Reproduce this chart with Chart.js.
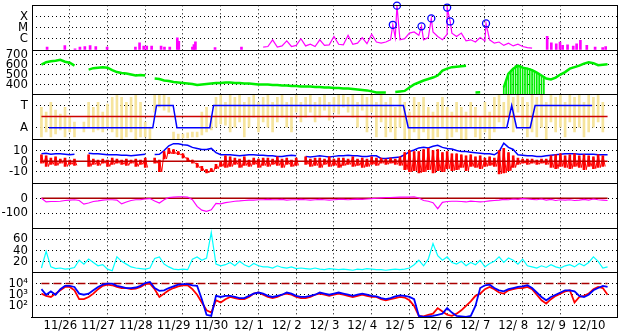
<!DOCTYPE html>
<html>
<head>
<meta charset="utf-8">
<style>
  html, body { margin: 0; padding: 0; background: #fff; }
  #wrap { width: 628px; height: 334px; }
</style>
</head>
<body>
<div id="wrap"><canvas id="chart" width="628" height="334"></canvas></div>
<script src="https://cdn.jsdelivr.net/npm/chart.js@4.4.1/dist/chart.umd.min.js"></script>
<script>
(function () {
  "use strict";

  // time axis: days since 11/26 00:00, samples every 3 hours
  var STEP = 1 / 8;
  var dateLabels = ["11/26", "11/27", "11/28", "11/29", "11/30", "12/ 1", "12/ 2", "12/ 3",
    "12/ 4", "12/ 5", "12/ 6", "12/ 7", "12/ 8", "12/ 9", "12/10"];

  // panel 1: x-ray level (0 = B, 1 = C, 2 = M, 3 = X)
  var xrayTicks = [1, 2, 3];
  var xrayTickText = ["C", "M", "X"];
  var xrayLevel = [
    null, null, null, null, null, null, null, null,
    null, null, null, null, null, null, null, null,
    null, null, null, null, null, null, null, null,
    null, null, null, null, null, null, null, null,
    null, null, null, null, null, null, null, null,
    null, null, null, null, null, null, null, 0.25,
    0.3, 0.9, 0.25, 0.35, 0.8, 0.3, 0.4, 1.0,
    0.35, 0.5, 0.3, 0.9, 0.4, 0.45, 1.2, 0.5,
    0.45, 1.3, 0.5, 0.6, 1.1, 0.55, 1.4, 0.7,
    0.6, 0.7, 0.9, 1.1, 0.9, 1.0, 1.5, 1.6,
    1.3, 0.9, 1.1, 1.6, 1.2, 0.9, 1.4, 1.5,
    1.2, 1.5, 0.8, 0.9, 0.7, 1.1, 0.8, 0.9,
    0.6, 0.7, 0.4, 0.6, 0.35, 0.5, 0.3, 0.2,
    0.15, null, null, null, null, null, null, null,
    null, null, null, null, null, null, null, null, null
  ];
  var flareDay = [9.31, 9.42, 10.07, 10.33, 10.75, 10.83, 11.78];
  var flareLevel = [2.25, 3.97, 2.11, 2.82, 3.80, 2.55, 2.37];
  var spikeDay = [0.15, 0.62, 0.89, 1.02, 1.15, 1.29, 1.44, 1.74, 2.49, 2.60, 2.71, 2.79, 2.92,
    3.17, 3.26, 3.40, 3.60, 3.64, 4.00, 4.04, 4.08, 4.6, 5.3,
    13.40, 13.51, 13.64, 13.74, 13.81, 13.94, 14.09, 14.18, 14.28, 14.45, 14.67, 14.87, 14.95];
  var spikeLevel = [0.24, 0.38, 0.09, 0.24, 0.29, 0.38, 0.29, 0.24, 0.24, 0.62, 0.33, 0.33, 0.33,
    0.33, 0.24, 0.24, 1.07, 0.77, 0.24, 0.47, 0.71, 0.2, 0.25,
    1.22, 0.62, 0.53, 0.7, 0.4, 0.45, 0.33, 0.53, 0.86, 0.4, 0.24, 0.2, 0.3];

  // panel 2: solar wind speed (km/s)
  var speedTicks = [400, 500, 600, 700];
  var speed = [
    600, 625, 635, 640, 650, 630, 620, 590,
    null, null, 550, 565, 570, 575, 570, 545,
    525, 515, 510, 500, 490, 495, 490, null,
    460, 455, 440, 435, 425, 420, 415, 410,
    405, 395, 400, 405, 410, 415, 415, 420,
    420, 415, 415, 410, 410, 405, 400, 400,
    400, 395, 395, 390, 390, 385, 385, 380,
    380, 380, 375, 375, 370, 370, 365, 365,
    360, 360, 355, 350, 345, 340, 330, 320,
    320, 318, null, 325, 330, 335, 370, 400,
    420, 440, 455, 470, 490, 540, 560, 575,
    580, 585, 590, null, 320, 322, null, null,
    null, null, 370, 510, 560, 590, 570, 560,
    545, 520, 490, 460, 450, 470, 500, 525,
    560, 575, 590, 610, 625, 615, 595, 600, 605
  ];
  // data dropouts on 12/8, every 1.5 hours from day 12.25
  var dropStart = 12.25;
  var dropStep = 1 / 16;
  var dropTop = [370, 445, 510, 540, 560, 590, 590, 590, 575, 570, 565, 560, 550, 535, 520, 505, 490, 470];

  // panel 3: mode (A / T) and scatter band
  var modeTicks = [-0.5, 0.5];
  var modeTickText = ["A", "T"];
  var modeDay = [0.2, 2.95, 3.05, 3.49, 3.59, 4.46, 4.56, 9.59, 9.72, 12.33, 12.46, 12.59, 12.95, 13.08, 14.59];
  var modeState = ["A", "A", "T", "T", "A", "A", "T", "T", "A", "A", "T", "A", "A", "T", "T"];
  var scatterHi = [
    0.42, 0.2, 0.64, 0.29, 0.11, 0.42, -0.02, -0.24,
    null, -0.24, 0.64, 0.42, 0.64, 0.2, 0.56, 0.87,
    0.96, 0.87, 0.64, 0.87, 0.96, 0.64, -0.24, -0.47,
    1, 1, 1, 0.87, -0.69, -0.78, -0.78, -0.73,
    -0.69, -0.69, 0.2, 0.42, -0.02, 0.87, 0.96, 0.64,
    1, 0.87, 1, 0.64, 0.87, 1, 0.64, 0.87,
    1, 0.64, 0.87, 1, 0.64, 0.87, 1, 0.64,
    0.87, 1, 0.64, 0.87, 1, 0.64, 0.87, 1,
    1, 0.87, 1, 0.64, 1, 0.87, 1, 0.64,
    1, 0.64, 0.87, 0.42, 1, 0.64, 0.2, 0.87,
    0.64, 0.87, 0.42, 0.2, 0.64, 0.87, 0.42, 0.2,
    0.64, 0.42, 0.2, 0.64, 0.42, -0.02, 0.64, 0.2,
    0.87, 1, 0.64, 1, 0.87, 1, 0.87, 0.64,
    1, 0.87, 1, 0.64, 1, 0.87, 1, 0.64,
    1, 0.87, 1, 0.64, 1, 0.87, 1, 0.64, null
  ];
  var scatterLo = [
    -0.91, -0.69, -0.91, -0.78, -0.6, -0.91, -0.69, -0.91,
    null, -0.69, -0.47, -0.69, -0.6, -0.69, -0.47, -0.69,
    -0.91, -1, -0.91, -0.69, -1, -0.91, -0.91, -1,
    0.2, 0.42, 0.29, 0.2, -1, -1, -0.96, -0.96,
    -0.91, -0.91, -0.82, -0.69, -0.6, -0.47, -0.33, -0.38,
    -0.69, -0.47, -0.24, -0.91, -0.47, -0.02, -0.69, -0.24,
    -0.47, -0.69, -0.24, -0.02, -0.47, -0.69, 0.2, -0.24,
    -0.02, 0.2, -0.24, -0.02, 0.29, -0.16, 0.2, 0.11,
    0.42, 0.2, -0.02, -0.47, 0.29, -0.69, 0.2, -0.91,
    -0.24, -0.91, -0.69, -1, -0.47, -1, -1, -0.69,
    -1, -0.69, -1, -1, -0.91, -0.47, -1, -0.91,
    -0.69, -1, -1, -0.47, -0.91, -1, -0.69, -1,
    -0.69, -0.24, -0.47, -0.02, -0.69, 0.2, -0.47, -0.91,
    -0.69, -0.91, -0.47, -1, -0.24, -0.69, -0.47, -0.91,
    -0.24, -0.69, -0.47, -0.91, -0.69, -0.47, -0.24, -0.69, null
  ];

  // panel 4: field magnitude and Bz (nT)
  var bzTicks = [-10, 0, 10];
  var bt = [
    7, 7.5, 6.5, 7, 7, 6.5, 6, 6.5,
    null, null, 7.5, 7, 7, 6.5, 6, 6,
    6, 5.5, 5.5, 5, 5.5, 6, 6.5, null,
    6.3, 6.5, 10, 14.5, 16.5, 16.5, 15.5, 15,
    13, 12, 11, 11, 12, 8, 6, 6,
    6, 5.5, 5, 5.5, 6, 6, 5.5, 5.5,
    5, 5, 4.5, 4.5, 5, 5.5, 5, null,
    4.5, 4, 4.5, 5, 4.5, 4, 4.5, 5,
    5, 5.5, 5, 5, 4.5, 4.5, 5, 5,
    2.5, 2.5, 3, 3.5, 4, 6, 9, 10.5,
    12.5, 13, 12.5, 14, 15, 13, 12, 11.5,
    10, 9, 9, 8.5, 8, 7.5, 7, 7,
    6, 9, 17, 13, 11, 6, 5.5, 5,
    5, 4.5, 4.5, 5, 5.5, 6, 6.5, 7,
    7, 7, 6.5, 6.5, 6.5, 6.5, 6, 6, 6
  ];
  var bzLo = [
    -2, -5, -3, -4, -2, -5, -3, -4,
    null, null, -5, -3, -4, -2, -5, -3,
    -2, -3, -4, -2, -5, -3, -6, null,
    -2, -10, 2, 7, 7, 6, 3, 0,
    -2, -6, -9, -11, -10, -7, -5, -6,
    -5, -3, -6, -4, -5, -3, -6, -4,
    -5, -3, -4, -6, -3, -5, -4, null,
    -3, -5, -4, -6, -3, -5, -4, -6,
    -4, -3, -5, -4, -6, -5, -3, -4,
    -2, -3, -2, -3, -4, -8, -10, -9,
    -11, -10, -8, -11, -9, -10, -7, -9,
    -8, -6, -9, -5, -6, -7, -5, -4,
    -5, -12, -11, -9, -6, -3, -2, -3,
    -2, -3, -2, -3, -6, -7, -5, -6,
    -7, -5, -6, -8, -5, -7, -6, -5, null
  ];
  var bzHi = [
    6, 5, 3, 4, 2, 3, 1, 2,
    null, null, 6, 2, 1, 2, 1, 3,
    2, 1, 2, 1, 2, 1, 3, null,
    3, 1, 9, 12, 11, 9, 7, 3,
    1, -2, -5, -8, -7, -3, 0, 5,
    4, 3, 2, 4, 1, 3, 2, 3,
    3, 2, 4, 2, 3, 1, 3, null,
    4, 2, 3, 3, 2, 4, 2, 3,
    3, 2, 4, 2, 3, 2, 4, 3,
    3, 2, 3, 2, 4, 8, 10, 9,
    9, 11, 12, 10, 11, 8, 9, 7,
    7, 6, 5, 6, 4, 5, 3, 4,
    3, 10, 12, 8, 5, 3, 2, 2,
    2, 1, 2, 2, 5, 6, 7, 5,
    6, 7, 5, 6, 5, 4, 6, 5, null
  ];

  // panel 5: storm index (nT)
  var dstTicks = [-100, 0];
  var dst = [
    0, -25, -22, -22, -20, -15, -12, -10,
    -15, -40, -32, -22, -18, -12, -10, -10,
    -12, -38, -25, -15, -10, -9, -5, -2,
    -18, -32, -10, 5, 8, 10, 10, 8,
    -10, -55, -80, -88, -78, -35, -38, -30,
    -25, -20, -18, -15, -12, -12, -10, -10,
    -8, -10, -10, -8, -12, -10, -10, -8,
    -10, -12, -10, -8, -10, -12, -10, -8,
    -8, -10, -8, -6, -8, -5, -3, 0,
    3, 5, 5, 6, 7, 8, 8, 10,
    2, -15, -20, -30, -70, -28, -22, -20,
    -20, -22, -25, -20, -22, -25, -22, -18,
    -15, -12, -8, -10, -5, -8, -3, -5,
    -8, -10, -5, -12, -8, -15, -10, -12,
    -10, -15, -12, -8, -12, -5, -10, -12, -15
  ];

  // panel 6: density (p/cc)
  var densTicks = [20, 40, 60];
  var density = [
    8, 38, 10, 7, 8, 6, 7, 9,
    22, 15, 24, 18, 12, 14, 6, 3,
    28, 20, 15, 10, 8, 7, 6, 8,
    25, 28, 15, 10, 6, 5, 6, 5,
    24, 28, 22, 26, 72, 15, 12, 14,
    18, 12, 20, 14, 10, 16, 12, 10,
    10, 8, 12, 9, 8, 10, 7, 8,
    7, 6, 8, 6, 5, 7, 6, 5,
    6, 5, 4, 6, 5, 7, 6, 5,
    5, 4, 5, 6, 5, 6, 8, 14,
    22, 12, 24, 52, 30, 22, 28, 18,
    15, 20, 12, 18, 14, 22, 10, 16,
    20, 28, 18, 26, 22, 15, 24, 12,
    10, 8, 12, 9, 14, 10, 8, 12,
    14, 10, 16, 12, 18, 28, 20, 8, 10
  ];

  // panel 7: electron flux, log10
  var fluxTicks = [2, 3, 4];
  var fluxTickText = ["10\u00b2", "10\u00b3", "10\u2074"];
  var fluxAlert = 4;
  var fluxRed = [
    3.1, 2.9, 2.8, 3.1, 3.4, 3.7, 3.7, 3.4,
    2.6, 2.6, 2.8, 3.1, 3.5, 3.8, 3.9, 3.85,
    3.7, 3.6, 3.6, 3.5, 3.55, 3.7, 3.95, 4.0,
    3.5, 2.8, 3.1, 3.4, 3.6, 3.75, 3.85, 3.85,
    3.5, 3.0, 2.3, 1.6, 1.4, 2.5, 2.3, 2.6,
    2.8, 2.7, 2.6, 2.6, 2.8, 3.1, 3.2, 3.0,
    2.8, 2.7, 2.8, 3.0, 3.1, 3.0, 2.8, 2.7,
    2.7, 2.8, 3.0, 3.1, 3.0, 2.9, 3.0, 3.1,
    3.0, 2.9, 2.8, 2.9, 3.0, 2.9, 2.8, 2.8,
    2.6, 2.5, 2.6, 2.7, 2.8, 2.75, 2.5, 2.0,
    1.1, 1.05, 1.2, 1.3, 1.8, 1.5, 1.2, 1.1,
    1.3, 1.6, 2.0, 2.4, 2.9, 3.1, 3.5, 3.7,
    3.5, 3.2, 3.1, 3.4, 3.5, 3.6, 3.6, 3.7,
    3.5, 3.0, 2.5, 2.2, 2.6, 2.9, 3.1, 3.3,
    3.4, 2.3, 2.8, 2.9, 3.1, 3.5, 3.7, 3.6, 3.0
  ];
  var fluxBlue = [
    3.5, 3.0, 3.3, 3.0, 3.5, 3.8, 3.8, 3.7,
    3.1, 3.0, 3.1, 3.4, 3.7, 3.9, 4.0, 4.0,
    3.8, 3.7, 3.6, 3.6, 3.65, 3.8, 4.05, 4.15,
    3.6, 3.35, 3.4, 3.6, 3.75, 3.9, 3.95, 3.95,
    3.85, 3.8, 2.6, 1.2, 1.1, 2.9, 2.8, 2.9,
    2.9, 2.8, 2.7, 2.7, 2.9, 3.1, 3.2, 3.1,
    2.9, 2.8, 2.9, 3.0, 3.2, 3.1, 2.9, 2.8,
    2.8, 2.9, 3.0, 3.2, 3.1, 3.0, 3.1, 3.2,
    3.1, 3.0, 2.9, 3.0, 3.1, 3.0, 2.9, 2.85,
    2.7, 2.6, 2.7, 2.85, 2.95, 2.9, 2.8, 2.6,
    1.1, 1.0, 1.05, 1.1, 1.2, 1.3, 1.8, 1.4,
    1.1, 1.05, 1.0, 1.1, 2.0, 3.6, 3.85, 3.9,
    3.6, 3.4, 3.3, 3.5, 3.6, 3.7, 3.75, 3.85,
    3.6, 3.2, 2.8, 2.5, 2.8, 3.0, 3.2, 3.4,
    3.4, 3.3, 2.9, 2.8, 3.0, 3.4, 3.6, 3.8, 3.7
  ];

  var DAYS = dateLabels.length;
  var FONT = "'Liberation Sans Narrow', 'DejaVu Sans Condensed', 'Liberation Sans', sans-serif";

  function series(values) {
    return values.map(function (v, i) { return { x: i * STEP, y: v }; });
  }

  function bands(lo, hi) {
    var out = [];
    lo.forEach(function (v, i) {
      if (v !== null && hi[i] !== null) out.push({ x: i * STEP, y: [v, hi[i]] });
    });
    return out;
  }

  // noisy trace: swing from the high reading to the low one inside each sample
  function swing(lo, hi) {
    var out = [];
    lo.forEach(function (v, i) {
      if (v === null || hi[i] === null) {
        out.push({ x: i * STEP, y: null });
        return;
      }
      out.push({ x: i * STEP, y: hi[i] });
      out.push({ x: i * STEP + STEP / 2, y: v });
    });
    return out;
  }

  function levelLine(level) {
    return [{ x: 0, y: level }, { x: DAYS, y: level }];
  }

  var xrayData = series(xrayLevel);
  flareDay.forEach(function (d, i) { xrayData.push({ x: d, y: flareLevel[i] }); });
  xrayData.sort(function (a, b) { return a.x - b.x; });

  var flareData = flareDay.map(function (d, i) { return { x: d, y: flareLevel[i] }; });
  var spikeData = spikeDay.map(function (d, i) { return { x: d, y: [0, spikeLevel[i]] }; });
  var dropData = dropTop.map(function (v, i) { return { x: dropStart + i * dropStep, y: [300, v] }; });
  var modeData = modeDay.map(function (d, i) { return { x: d, y: modeState[i] === "T" ? 0.5 : -0.5 }; });

  function panelAxis(weight, min, max, tickValues, tickText) {
    return {
      type: "linear",
      position: "left",
      stack: "panels",
      stackWeight: 1,
      weight: weight,
      min: min,
      max: max,
      afterBuildTicks: function (scale) {
        scale.ticks = tickValues.map(function (v) { return { value: v }; });
      },
      afterFit: function (scale) {
        scale.width = 32;
        scale.paddingTop = 0;
        scale.paddingBottom = 0;
      },
      grid: { color: "#000", lineWidth: 1, drawTicks: false },
      border: { display: true, color: "#000", width: 1, dash: [1, 3] },
      ticks: {
        color: "#000",
        padding: 4,
        autoSkip: false,
        font: { family: FONT, size: 13 },
        callback: function (value) {
          var k = tickValues.indexOf(value);
          if (k < 0) return "";
          return tickText ? tickText[k] : String(value);
        }
      }
    };
  }

  var halfDays = [];
  for (var h = 0; h <= DAYS * 2; h++) halfDays.push(h / 2);

  // solid frame round every panel
  var panelFrame = {
    id: "panelFrame",
    afterDatasetsDraw: function (chart) {
      var ctx = chart.ctx;
      var area = chart.chartArea;
      ctx.save();
      ctx.strokeStyle = "#000";
      ctx.lineWidth = 1;
      ctx.beginPath();
      Object.keys(chart.scales).forEach(function (id) {
        var s = chart.scales[id];
        if (s.axis !== "y") return;
        var t = Math.round(s.top) + 0.5;
        var b = Math.round(s.bottom) + 0.5;
        ctx.moveTo(area.left, t);
        ctx.lineTo(area.right + 1, t);
        ctx.moveTo(area.left, b);
        ctx.lineTo(area.right + 1, b);
      });
      var r = Math.round(area.right) + 0.5;
      ctx.moveTo(r, area.top);
      ctx.lineTo(r, area.bottom + 1);
      ctx.stroke();
      ctx.restore();
    }
  };

  function line(data, axis, color, width, extra) {
    var ds = {
      type: "line",
      data: data,
      yAxisID: axis,
      borderColor: color,
      borderWidth: width,
      pointRadius: 0,
      tension: 0,
      spanGaps: false,
      fill: false
    };
    return Object.assign(ds, extra || {});
  }

  function bar(data, axis, color, thickness) {
    return {
      type: "bar",
      data: data,
      yAxisID: axis,
      backgroundColor: color,
      borderWidth: 0,
      barThickness: thickness,
      grouped: false
    };
  }

  var datasets = [
    bar(spikeData, "yXray", "#ff00ff", 2),
    line(xrayData, "yXray", "#ff00ff", 1.2),
    line(flareData, "yXray", "#0000ff", 0, {
      showLine: false, pointRadius: 3.5, pointBorderWidth: 1.3,
      pointBorderColor: "#0000ff", pointBackgroundColor: "rgba(0,0,0,0)", clip: false
    }),
    bar(dropData, "ySpeed", "#00ee00", 1),
    line(series(speed), "ySpeed", "#00ee00", 2.5),
    bar(bands(scatterLo, scatterHi), "yMode", "#f6e49c", 2),
    line(levelLine(0), "yMode", "#cc0000", 1.5),
    line(modeData, "yMode", "#0000ff", 1.5),
    line(series(bt), "yBz", "#0000ff", 1.5),
    bar(bands(bzLo, bzHi), "yBz", "#ff0000", 2),
    line(swing(bzLo, bzHi), "yBz", "#ff0000", 1),
    line(levelLine(0), "yBz", "#bb0000", 1.5),
    line(levelLine(0), "yDst", "#aa0000", 1.5),
    line(series(dst), "yDst", "#ff00ff", 1.2),
    line(series(density), "yDens", "#00ffff", 1.2),
    line(levelLine(fluxAlert), "yFlux", "#aa0000", 1.5, { borderDash: [8, 4] }),
    line(series(fluxRed), "yFlux", "#ff0000", 1.8),
    line(series(fluxBlue), "yFlux", "#0000ff", 1.8)
  ];
  datasets.forEach(function (ds, i) { ds.order = -i; ds.xAxisID = "x"; });

  new Chart(document.getElementById("chart"), {
    type: "line",
    data: { datasets: datasets },
    options: {
      responsive: false,
      animation: false,
      events: [],
      layout: { padding: { top: 2, right: 11, bottom: 0, left: 0 } },
      plugins: { legend: { display: false }, tooltip: { enabled: false } },
      scales: {
        x: {
          type: "linear",
          position: "bottom",
          min: 0,
          max: DAYS,
          afterBuildTicks: function (scale) {
            scale.ticks = halfDays.map(function (v) { return { value: v }; });
          },
          afterFit: function (scale) {
            scale.height = 17;
            scale.paddingLeft = 0;
            scale.paddingRight = 0;
          },
          grid: {
            drawTicks: false,
            lineWidth: 1,
            color: function (ctx) {
              var v = ctx.tick ? ctx.tick.value : 0;
              return Number.isInteger(v) && v > 0 && v < DAYS ? "#000" : "rgba(0,0,0,0)";
            }
          },
          border: { display: true, color: "#000", width: 1, dash: [1, 3] },
          ticks: {
            color: "#000",
            padding: 1,
            autoSkip: false,
            maxRotation: 0,
            minRotation: 0,
            font: { family: FONT, size: 13 },
            callback: function (value) {
              return Number.isInteger(value) ? "" : dateLabels[Math.floor(value)];
            }
          }
        },
        yXray: panelAxis(7, 0, 4, xrayTicks, xrayTickText),
        ySpeed: panelAxis(6, 300, 750, speedTicks),
        yMode: panelAxis(5, -1, 1, modeTicks, modeTickText),
        yBz: panelAxis(4, -21, 21, bzTicks),
        yDst: panelAxis(3, -200, 100, dstTicks),
        yDens: panelAxis(2, 0, 80, densTicks),
        yFlux: panelAxis(1, 1, 5, fluxTicks, fluxTickText)
      }
    },
    plugins: [panelFrame]
  });
})();
</script>
</body>
</html>
